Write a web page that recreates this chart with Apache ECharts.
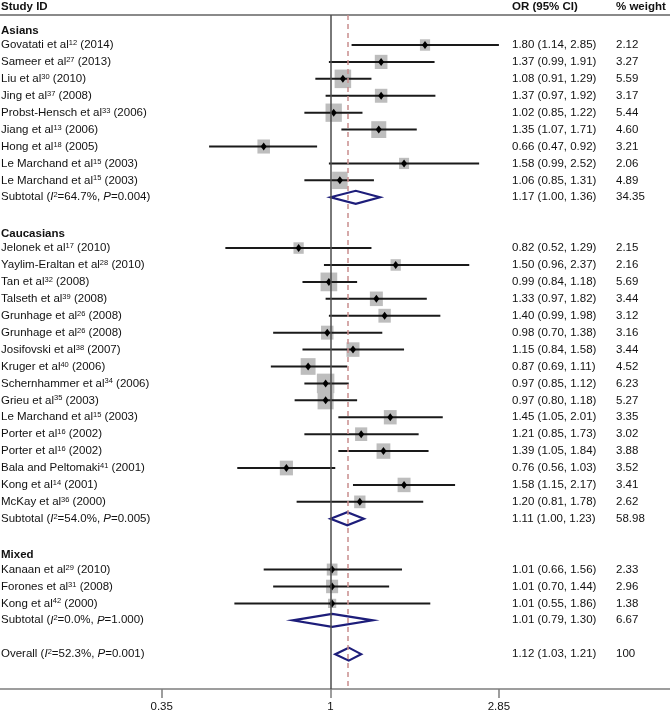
<!DOCTYPE html>
<html><head><meta charset="utf-8">
<script src="https://cdn.jsdelivr.net/npm/echarts@6/dist/echarts.min.js"></script>
<style>html,body{margin:0;padding:0;background:#fff}#c{width:670px;height:712px}</style>
</head><body><div id="c"></div>
<script>
// ---------------- data ----------------
const groupNames = ['Asians', 'Caucasians', 'Mixed'];
const studyNames = [
  'Govatati et al', 'Sameer et al', 'Liu et al', 'Jing et al', 'Probst-Hensch et al', 'Jiang et al', 'Hong et al', 'Le Marchand et al', 'Le Marchand et al',
  'Jelonek et al', 'Yaylim-Eraltan et al', 'Tan et al', 'Talseth et al', 'Grunhage et al', 'Grunhage et al', 'Josifovski et al', 'Kruger et al', 'Schernhammer et al', 'Grieu et al', 'Le Marchand et al', 'Porter et al', 'Porter et al', 'Bala and Peltomaki', 'Kong et al', 'McKay et al',
  'Kanaan et al', 'Forones et al', 'Kong et al'
];
const studyRefs = ['12','27','30','37','33','13','18','15','15',
  '17','28','32','39','26','26','38','40','34','35','15','16','16','41','14','36',
  '29','31','42'];
const studyYears = ['2014','2013','2010','2008','2006','2006','2005','2003','2003',
  '2010','2010','2008','2008','2008','2008','2007','2006','2006','2003','2003','2002','2002','2001','2001','2000',
  '2010','2008','2000'];
const studyGroup = [0,0,0,0,0,0,0,0,0, 1,1,1,1,1,1,1,1,1,1,1,1,1,1,1,1, 2,2,2];
const studyOR = [1.80,1.37,1.08,1.37,1.02,1.35,0.66,1.58,1.06,
  0.82,1.50,0.99,1.33,1.40,0.98,1.15,0.87,0.97,0.97,1.45,1.21,1.39,0.76,1.58,1.20,
  1.01,1.01,1.01];
const studyLow = [1.14,0.99,0.91,0.97,0.85,1.07,0.47,0.99,0.85,
  0.52,0.96,0.84,0.97,0.99,0.70,0.84,0.69,0.85,0.80,1.05,0.85,1.05,0.56,1.15,0.81,
  0.66,0.70,0.55];
const studyHigh = [2.85,1.91,1.29,1.92,1.22,1.71,0.92,2.52,1.31,
  1.29,2.37,1.18,1.82,1.98,1.38,1.58,1.11,1.12,1.18,2.01,1.73,1.84,1.03,2.17,1.78,
  1.56,1.44,1.86];
const studyWeight = [2.12,3.27,5.59,3.17,5.44,4.60,3.21,2.06,4.89,
  2.15,2.16,5.69,3.44,3.12,3.16,3.44,4.52,6.23,5.27,3.35,3.02,3.88,3.52,3.41,2.62,
  2.33,2.96,1.38];
const subI2 = ['64.7', '54.0', '0.0'];
const subP = ['0.004', '0.005', '1.000'];
const subOR = [1.17, 1.11, 1.01];
const subLow = [1.00, 1.00, 0.79];
const subHigh = [1.36, 1.23, 1.30];
const subWeight = [34.35, 58.98, 6.67];
const overallI2 = '52.3';
const overallP = '0.001';
const overallOR = 1.12;
const overallLow = 1.03;
const overallHigh = 1.21;
const overallWeight = 100;
const tickValues = [0.35, 1, 2.85];
const tickLabels = ['0.35', '1', '2.85'];
const headers = ['Study ID', 'OR (95% CI)', '% weight'];

// ---------------- layout rows ----------------
const rows = [];
let r = 0;
groupNames.forEach((g, gi) => {
  rows.push({type: 'heading', row: r++, gi});
  studyGroup.forEach((sg, si) => { if (sg === gi) rows.push({type: 'study', row: r++, si}); });
  rows.push({type: 'sub', row: r++, gi});
  r++;
});
rows.push({type: 'overall', row: r});

const ln = Math.log;
const fmt = v => v.toFixed(2);
const fmtW = v => (v === 100 ? '100' : v.toFixed(2));

const studyData = rows.filter(o => o.type === 'study').map(o =>
  [ln(studyLow[o.si]), ln(studyHigh[o.si]), ln(studyOR[o.si]), o.row, studyWeight[o.si]]);
const diamondData = rows.filter(o => o.type === 'sub').map(o =>
  [ln(subLow[o.gi]), ln(subHigh[o.gi]), ln(subOR[o.gi]), o.row]);
rows.filter(o => o.type === 'overall').forEach(o =>
  diamondData.push([ln(overallLow), ln(overallHigh), ln(overallOR), o.row]));
const textData = rows.map((o, k) => [0, o.row, k]);

const FONT = '"Liberation Sans", Arial, Helvetica, sans-serif';
const FS = 11.5;
const TXT = '#111111';
const rich = {
  sup: {fontSize: 7.5, fontFamily: FONT, fill: TXT, verticalAlign: 'top'},
  it: {fontSize: FS, fontFamily: FONT, fill: TXT, fontStyle: 'italic'},
  n: {fontSize: FS, fontFamily: FONT, fill: TXT}
};

function labelFor(o) {
  if (o.type === 'heading') return groupNames[o.gi];
  if (o.type === 'study') return '{n|' + studyNames[o.si] + '}{sup|' + studyRefs[o.si] + '}{n| (' + studyYears[o.si] + ')}';
  if (o.type === 'sub') return '{n|Subtotal (}{it|I}{sup|2}{n|=' + subI2[o.gi] + '%, }{it|P}{n|=' + subP[o.gi] + ')}';
  return '{n|Overall (}{it|I}{sup|2}{n|=' + overallI2 + '%, }{it|P}{n|=' + overallP + ')}';
}
function orFor(o) {
  if (o.type === 'study') return fmt(studyOR[o.si]) + ' (' + fmt(studyLow[o.si]) + ', ' + fmt(studyHigh[o.si]) + ')';
  if (o.type === 'sub') return fmt(subOR[o.gi]) + ' (' + fmt(subLow[o.gi]) + ', ' + fmt(subHigh[o.gi]) + ')';
  if (o.type === 'overall') return fmt(overallOR) + ' (' + fmt(overallLow) + ', ' + fmt(overallHigh) + ')';
  return '';
}
function wFor(o) {
  if (o.type === 'study') return fmtW(studyWeight[o.si]);
  if (o.type === 'sub') return fmtW(subWeight[o.gi]);
  if (o.type === 'overall') return fmtW(overallWeight);
  return '';
}

function txt(x, y, text, bold, useRich) {
  const st = {
    text, x, y, fill: TXT, align: 'left', verticalAlign: 'middle',
    textAlign: 'left', textVerticalAlign: 'middle',
    fontSize: FS, fontFamily: FONT, fontWeight: bold ? 'bold' : 'normal'
  };
  if (useRich) st.rich = rich;
  return {type: 'text', style: st};
}

const chart = echarts.init(document.getElementById('c'), null, {renderer: 'canvas'});
const xMin = -2.0554, xMax = 2.1113;

chart.setOption({
  animation: false,
  backgroundColor: '#fff',
  grid: {left: 0, right: 0, top: 15, bottom: 23, containLabel: false, outerBoundsMode: 'none'},
  xAxis: [{
    type: 'value', min: xMin, max: xMax, position: 'bottom',
    splitLine: {show: false},
    axisLine: {show: true, onZero: false, lineStyle: {color: '#7d7d7d', width: 1.5}},
    axisTick: {show: true, customValues: tickValues.map(ln), length: 9, lineStyle: {color: '#7d7d7d', width: 1.5}},
    axisLabel: {
      show: true, customValues: tickValues.map(ln), margin: 12,
      fontSize: FS, fontFamily: FONT, color: TXT,
      formatter: v => {
        let best = 0;
        tickValues.forEach((t, i) => { if (Math.abs(ln(t) - v) < Math.abs(ln(tickValues[best]) - v)) best = i; });
        return tickLabels[best];
      }
    }
  }, {
    type: 'value', min: xMin, max: xMax, position: 'top',
    splitLine: {show: false},
    axisLine: {show: true, onZero: false, lineStyle: {color: '#8a8a8a', width: 2}},
    axisTick: {show: false}, axisLabel: {show: false}
  }],
  yAxis: {type: 'value', inverse: true, min: -0.773, max: 39.06, show: false},
  graphic: headers.map((h, i) => ({
    type: 'text', x: [1, 512, 616][i], y: 6.5,
    style: {text: h, fontSize: FS, fontFamily: FONT, fontWeight: 'bold', fill: TXT, verticalAlign: 'middle', textVerticalAlign: 'middle'}
  })),
  series: [
    {
      type: 'line', data: [], z: 1, silent: true,
      markLine: {
        silent: true, symbol: 'none', label: {show: false}, animation: false,
        data: [
          {xAxis: 0, lineStyle: {color: '#4d4d4d', width: 1.5, type: 'solid'}},
          {xAxis: ln(overallOR), lineStyle: {color: '#c98d8d', width: 1.5, type: [5, 4]}}
        ]
      }
    },
    {
      type: 'custom', z: 2, silent: true,
      data: studyData,
      encode: {x: [0, 1, 2], y: 3},
      renderItem: (params, api) => {
        const y = api.value(3);
        const lo = api.coord([api.value(0), y]);
        const hi = api.coord([api.value(1), y]);
        const pt = api.coord([api.value(2), y]);
        const s = 7.0 * Math.sqrt(api.value(4));
        const h = s * 1.12;
        return {type: 'group', children: [
          {type: 'rect', shape: {x: pt[0] - s / 2, y: pt[1] - h / 2, width: s, height: h}, style: {fill: '#bdbdbd'}},
          {type: 'line', shape: {x1: lo[0], y1: lo[1], x2: hi[0], y2: hi[1]}, style: {stroke: '#1a1a1a', lineWidth: 2}},
          {type: 'polygon', shape: {points: [[pt[0] - 3, pt[1]], [pt[0], pt[1] - 4], [pt[0] + 3, pt[1]], [pt[0], pt[1] + 4]]}, style: {fill: '#000'}}
        ]};
      }
    },
    {
      type: 'custom', z: 3, silent: true,
      data: diamondData,
      encode: {x: [0, 1, 2], y: 3},
      renderItem: (params, api) => {
        const y = api.value(3);
        const lo = api.coord([api.value(0), y]);
        const hi = api.coord([api.value(1), y]);
        const pt = api.coord([api.value(2), y]);
        return {type: 'polygon', shape: {points: [[lo[0], lo[1]], [pt[0], pt[1] - 6.5], [hi[0], hi[1]], [pt[0], pt[1] + 6.5]]},
          style: {fill: 'none', stroke: '#1d1d7a', lineWidth: 2.2}};
      }
    },
    {
      type: 'custom', z: 4, silent: true,
      data: textData,
      encode: {x: 0, y: 1},
      renderItem: (params, api) => {
        const o = rows[api.value(2)];
        const yy = api.coord([0, api.value(1)])[1] + (o.type === 'heading' ? 2.5 : 0);
        const kids = [txt(1, yy, labelFor(o), o.type === 'heading', o.type !== 'heading')];
        const a = orFor(o), b = wFor(o);
        if (a) kids.push(txt(512, yy, a, false, false));
        if (b) kids.push(txt(616, yy, b, false, false));
        return {type: 'group', children: kids};
      }
    }
  ]
});
</script>
</body></html>
